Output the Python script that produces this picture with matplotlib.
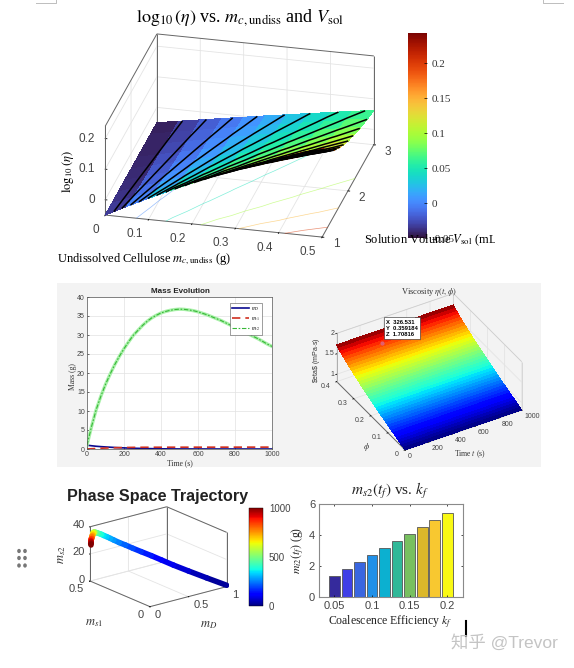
import numpy as np
import matplotlib
matplotlib.use("Agg")
import matplotlib.pyplot as plt
from matplotlib.cm import ScalarMappable
from matplotlib.colors import Normalize
from matplotlib.lines import Line2D
from matplotlib.patches import Rectangle, Circle
from matplotlib.transforms import Bbox
from mpl_toolkits.mplot3d import proj3d
from mpl_toolkits.mplot3d.art3d import Line3DCollection

W, H = 574, 668

# top surface: log10(eta) on m_c (columns) and V_sol (rows)
mc_values = [0, 0.05, 0.1, 0.15, 0.2, 0.25, 0.3, 0.35, 0.4, 0.45, 0.5]
vsol_values = [1, 1.25, 1.5, 1.75, 2, 2.25, 2.5, 2.75, 3]
log_eta = [
    [-0.05, -0.0147, 0.0192, 0.0517, 0.0828, 0.1125, 0.1408, 0.1677, 0.1932, 0.2173, 0.24],
    [-0.05, -0.0216, 0.0058, 0.0324, 0.058, 0.0828, 0.1067, 0.1296, 0.1517, 0.1729, 0.1932],
    [-0.05, -0.0263, -0.0032, 0.0192, 0.041, 0.0622, 0.0828, 0.1028, 0.1221, 0.1408, 0.1589],
    [-0.05, -0.0296, -0.0098, 0.0096, 0.0286, 0.0472, 0.0652, 0.0828, 0.1, 0.1166, 0.1328],
    [-0.05, -0.0322, -0.0147, 0.0024, 0.0192, 0.0356, 0.0517, 0.0674, 0.0828, 0.0978, 0.1125],
    [-0.05, -0.0341, -0.0186, -0.0032, 0.0118, 0.0266, 0.041, 0.0552, 0.0692, 0.0828, 0.0962],
    [-0.05, -0.0357, -0.0216, -0.0078, 0.0058, 0.0192, 0.0324, 0.0453, 0.058, 0.0705, 0.0828],
    [-0.05, -0.037, -0.0242, -0.0116, 0.0009, 0.0131, 0.0252, 0.0371, 0.0488, 0.0603, 0.0716],
    [-0.05, -0.0381, -0.0263, -0.0147, -0.0032, 0.0082, 0.0192, 0.0302, 0.041, 0.0517, 0.0622],
]
black_levels = [-0.036, -0.023, -0.009, 0.004, 0.018, 0.031, 0.045, 0.058, 0.072, 0.085, 0.099,
                0.112, 0.126, 0.139, 0.153, 0.166, 0.18, 0.193, 0.207, 0.22]
floor_levels = [0.0, 0.045, 0.095, 0.145, 0.2]

# mass evolution, also used by the phase space trajectory
time_s = [0, 25, 50, 75, 100, 125, 150, 175, 200, 225, 250, 275, 300, 325, 350, 375, 400, 425, 450, 475,
          500, 525, 550, 575, 600, 625, 650, 675, 700, 725, 750, 775, 800, 825, 850, 875, 900, 925, 950, 975, 1000]
m_D = [1, 0.85, 0.72, 0.62, 0.54, 0.47, 0.4, 0.34, 0.29, 0.24, 0.2, 0.17, 0.14, 0.11, 0.09, 0.07, 0.05, 0.04, 0.03, 0.02,
       0.015, 0.012, 0.01, 0.01, 0.008, 0.006, 0.005, 0.004, 0.003, 0.002, 0.002, 0.001, 0.001, 0, 0, 0, 0, 0, 0, 0, 0]
m_s1 = [0, 0.07, 0.14, 0.2, 0.25, 0.29, 0.33, 0.36, 0.39, 0.41, 0.43, 0.44, 0.45, 0.455, 0.46, 0.46, 0.465, 0.465, 0.47, 0.47,
        0.47, 0.475, 0.475, 0.475, 0.48, 0.48, 0.48, 0.48, 0.48, 0.485, 0.485, 0.485, 0.485, 0.49, 0.49, 0.49, 0.49, 0.49, 0.49, 0.495, 0.495]
m_s2 = [1, 6, 10.4, 13.9, 17, 19.7, 22.2, 24.4, 26.4, 28.2, 29.9, 31.2, 32.5, 33.6, 34.5, 35.2, 35.8, 36.2, 36.5, 36.7,
        36.8, 36.75, 36.6, 36.4, 36.1, 35.7, 35.3, 34.8, 34.3, 33.8, 33.2, 32.6, 32, 31.4, 30.8, 30.2, 29.6, 29, 28.3, 27.6, 27]

# viscosity surface
t_ends = [0, 1000]
phi_values = [0, 0.01, 0.02, 0.03, 0.04, 0.05, 0.06, 0.07, 0.08, 0.09, 0.1, 0.11, 0.12, 0.13, 0.14, 0.15, 0.16, 0.17, 0.18, 0.19, 0.2,
              0.21, 0.22, 0.23, 0.24, 0.25, 0.26, 0.27, 0.28, 0.29, 0.3, 0.31, 0.32, 0.33, 0.34, 0.35, 0.36, 0.37, 0.38, 0.39, 0.4]
eta_values = [0.82, 0.838, 0.856, 0.874, 0.893, 0.911, 0.93, 0.948, 0.967, 0.986, 1.005, 1.024, 1.043, 1.063, 1.082, 1.102, 1.122,
              1.142, 1.162, 1.182, 1.203, 1.224, 1.245, 1.266, 1.288, 1.31, 1.332, 1.355, 1.378, 1.401, 1.425, 1.45, 1.475, 1.5,
              1.527, 1.554, 1.582, 1.612, 1.643, 1.677, 1.72]

# coalescence bars
k_f = [0.05, 0.0667, 0.0833, 0.1, 0.1167, 0.1333, 0.15, 0.1667, 0.1833, 0.2]
m_s2_final = [1.36, 1.80, 2.25, 2.71, 3.16, 3.61, 4.07, 4.53, 4.96, 5.42]
bar_colors = ["#352a9c", "#3f3fe6", "#3a66e0", "#2090e8", "#0cb0d0", "#30b898", "#78c060", "#dcb82a", "#f8c830", "#f9f914"]

plt.rcParams["font.family"] = ["Liberation Serif", "DejaVu Sans"]
plt.rcParams["mathtext.fontset"] = "stix"

fig = plt.figure(figsize=(W / 100, H / 100), dpi=100)
GRAY = "#444444"
SANS = ["Liberation Sans", "DejaVu Sans"]


def px_axes(left, top, right, bottom):
    return [left / W, 1 - bottom / H, (right - left) / W, (bottom - top) / H]


def ptext(x, y, s, **kw):
    kw.setdefault("ha", "center")
    kw.setdefault("va", "center")
    return fig.text(x / W, 1 - y / H, s, **kw)


def axes_3d(cx, cy, aspect, lx, elev, azim):
    # square axes sized so the x edge of the box is lx pixels long, box centre at (cx, cy)
    aspect = np.array(aspect, dtype=float)
    unit = aspect[0] / np.linalg.norm(aspect) * 1.8294640721620434 * 25 / 24 / 1.85
    side = lx / unit
    left = cx - side * 0.95 / 1.85
    bottom = cy + side * 0.95 / 1.85
    ax = fig.add_axes(px_axes(left, bottom - side, left + side, bottom), projection="3d", proj_type="ortho")
    ax.set_box_aspect(aspect)
    ax.view_init(elev=elev, azim=azim)
    ax.patch.set_visible(False)
    ax.computed_zorder = False
    for axis in (ax.xaxis, ax.yaxis, ax.zaxis):
        axis.set_pane_color((1, 1, 1, 0))
        axis.pane.set_edgecolor((1, 1, 1, 0))
        axis._axinfo["grid"].update(color="#e4e4e4", linewidth=0.6)
        axis._axinfo["tick"].update(inward_factor=0.1, outward_factor=0.0)
        axis._axinfo["tick"]["linewidth"] = {True: 0.6, False: 0.5}
        axis.line.set_color("#666666")
        axis.line.set_linewidth(0.7)
    ax.margins(0)
    return ax


def wall_edges(xl, yl, zl):
    # outline of the two back walls; xl and yl end on the far corner of the box
    x0, x1 = xl
    y0, y1 = yl
    z0, z1 = zl
    return [((x0, y1, z1), (x1, y1, z1)), ((x1, y0, z1), (x1, y1, z1)), ((x0, y1, z0), (x0, y1, z1)),
            ((x1, y1, z0), (x1, y1, z1)), ((x1, y0, z0), (x1, y0, z1))]


def tick_text(ax, x, y, z, label, dx, dy, ha, size):
    # tick label placed from the projected position of its tick, offset in pixels
    xp, yp, _ = proj3d.proj_transform(x, y, z, ax.get_proj())
    ax.annotate(label, (xp, yp), xycoords="data", xytext=(dx * 0.72, -dy * 0.72), textcoords="offset points",
                ha=ha, va="center", fontsize=size, color=GRAY, family=SANS, annotation_clip=False)


# page decoration
fig.add_artist(Rectangle((57 / W, 1 - 467 / H), 484 / W, 184 / H, transform=fig.transFigure, fc="#f3f3f3", ec="none", zorder=-5))
for xs, ys in [((36, 56, 56), (3, 3, 0)), ((563, 543, 543), (3, 3, 0))]:
    fig.add_artist(Line2D([x / W for x in xs], [1 - y / H for y in ys], color="#bdbdbd", lw=0.7))
for dx in (19, 25):
    for dy in (551, 558, 565.5):
        fig.add_artist(Circle((dx / W, 1 - dy / H), 0.0032, transform=fig.transFigure, fc="#777777", ec="none"))

# ---- top: log10(eta) surface
ax1 = axes_3d(239.5, 135.5, (1, 1, 0.44), 223, 25.2, -76.6)
mc_grid, vsol_grid = np.meshgrid(mc_values, vsol_values)
log_eta_grid = np.array(log_eta)
z_lim1 = (-0.05, 0.24)
ax1.set_xlim(0, 0.5)
ax1.set_ylim(1, 3)
ax1.set_zlim(*z_lim1)
ax1.contour(mc_grid, vsol_grid, log_eta_grid, levels=floor_levels, zdir="z", offset=z_lim1[0], cmap="turbo",
            vmin=-0.05, vmax=0.24, linewidths=0.5, alpha=0.55, zorder=1, linestyles="solid")
ax1.plot_surface(mc_grid, vsol_grid, log_eta_grid, rstride=1, cstride=1, cmap="turbo", vmin=-0.05, vmax=0.24,
                 shade=False, linewidth=0, antialiased=False, zorder=2)
ax1.contour(mc_grid, vsol_grid, log_eta_grid, levels=black_levels, colors="k", linewidths=1.1, zorder=3, linestyles="solid")
ax1_xt = [0, 0.1, 0.2, 0.3, 0.4, 0.5]
ax1_yt = [1, 2, 3]
ax1_zt = [0, 0.1, 0.2]
ax1.set_xticks(ax1_xt, [""] * 6)
ax1.set_yticks(ax1_yt, [""] * 3)
ax1.set_zticks(ax1_zt, [""] * 3)
ax1.zaxis._axinfo["juggled"] = (1, 2, 0)
for v in ax1_xt:
    tick_text(ax1, v, 1, z_lim1[0], f"{v:g}", -6, 15, "right", 8.5)
for v in ax1_yt:
    tick_text(ax1, 0.5, v, z_lim1[0], f"{v:g}", 14, 7, "center", 8.5)
for v in ax1_zt:
    tick_text(ax1, 0, 1, v, f"{v:g}", -10, 0, "right", 8.5)
# far corner of this box is at m_c = 0, V_sol = 3
ax1.add_collection3d(Line3DCollection(wall_edges((0.5, 0), (1, 3), z_lim1), colors="#666666", linewidths=0.7, zorder=0))

ptext(240, 18, r"$\log_{10}(\eta)$ vs. $m_{c,\mathrm{undiss}}$ and $V_{\mathrm{sol}}$", fontsize=13)
ptext(68, 172, r"$\log_{10}(\eta)$", fontsize=9, rotation=90)
ptext(144, 259, r"Undissolved Cellulose $m_{c,\mathrm{undiss}}$ (g)", fontsize=9)

cax1 = fig.add_axes(px_axes(408, 33, 427, 238))
cb1 = fig.colorbar(ScalarMappable(Normalize(-0.05, 0.243), "turbo"), cax=cax1)
cb1.set_ticks([-0.05, 0, 0.05, 0.1, 0.15, 0.2], labels=["-0.05", "0", "0.05", "0.1", "0.15", "0.2"])
cb1.outline.set_linewidth(0)
cax1.tick_params(labelsize=8, length=2, width=0.5, pad=3, labelcolor="#333333", direction="in")
vol_text = ptext(364, 240.5, r"Solution Volume $V_{\mathrm{sol}}$ (mL)", fontsize=9, ha="left")
vol_text.set_clip_box(Bbox([[0, 0], [495, H]]))
vol_text.set_clip_on(True)

# ---- mass evolution
ax2 = fig.add_axes(px_axes(87, 297, 272, 449))
ax2.plot(time_s, m_D, color="#0a0a90", lw=1.2, label="$m_D$")
ax2.plot(time_s, m_s1, color="#d03020", lw=1.2, ls=(0, (5, 3)), label="$m_{s1}$")
ax2.plot(time_s, m_s2, color="#a8f0a8", lw=2.4)
ax2.plot(time_s, m_s2, color="#38b838", lw=0.8, ls=(0, (4, 1.5, 1.5, 1.5)), label="$m_{s2}$")
ax2.set_xlim(0, 1000)
ax2.set_ylim(0, 40)
ax2.set_xticks([0, 200, 400, 600, 800, 1000])
ax2.set_yticks(range(0, 41, 5))
ax2.grid(color="#e2e2e2", lw=0.5)
ax2.tick_params(labelsize=5, length=1.5, width=0.4, pad=1.5, labelcolor=GRAY, direction="in")
for lab in ax2.get_xticklabels() + ax2.get_yticklabels():
    lab.set_fontfamily(SANS)
for sp in ax2.spines.values():
    sp.set_linewidth(0.5)
    sp.set_color("#555555")
ax2.legend(loc="upper right", fontsize=4, handlelength=3, handletextpad=0.4, fancybox=False, edgecolor="#555555", framealpha=1,
           borderpad=0.35, labelspacing=0.35, bbox_to_anchor=(0.946, 0.96), borderaxespad=0).get_frame().set_linewidth(0.4)
ptext(180, 291.5, "Mass Evolution", fontsize=5.8, fontweight="bold", family=SANS, color="#222222")
ptext(180, 463, "Time (s)", fontsize=5.5, color="#333333")
ptext(73, 377, "Mass (g)", fontsize=5.5, rotation=90, color="#333333")

# ---- viscosity surface
ax3 = axes_3d(429.2, 371.65, (1, 1, 0.44), 135.2, 35.8, -120.35)
t_grid, phi_grid = np.meshgrid(t_ends, phi_values)
eta_grid = np.array([eta_values, eta_values]).T
ax3.set_xlim(0, 1000)
ax3.set_ylim(0, 0.4)
ax3.set_zlim(0.82, 2)
ax3.plot_surface(t_grid, phi_grid, eta_grid, rstride=1, cstride=1, cmap="jet", vmin=0.82, vmax=1.72, shade=False,
                 linewidth=0, antialiased=False, zorder=2)
ax3_xt = [0, 200, 400, 600, 800, 1000]
ax3_yt = [0, 0.1, 0.2, 0.3, 0.4]
ax3_zt = [1, 1.5, 2]
ax3.set_xticks(ax3_xt, [""] * 6)
ax3.set_yticks(ax3_yt, [""] * 5)
ax3.set_zticks(ax3_zt, [""] * 3)
for v in ax3_xt:
    tick_text(ax3, v, 0, 0.82, f"{v:g}", 3, 6.5, "left", 5)
for v in ax3_yt:
    tick_text(ax3, 0, v, 0.82, f"{v:g}", -6, 4.4, "right", 5)
for v in ax3_zt:
    tick_text(ax3, 0, 0.4, v, f"{v:g}", -2.5, 0, "right", 5)
ax3.add_collection3d(Line3DCollection(wall_edges((0, 1000), (0, 0.4), (0.82, 2)), colors="#cccccc", linewidths=0.5, zorder=0))
ptext(429, 292, r"Viscosity $\eta(t,\phi)$", fontsize=6, color="#333333")
ptext(317, 360, r"\$eta\$ (mPa$\cdot$s)", fontsize=5, rotation=90, family=SANS, color="#333333")
ptext(366, 447, r"$\phi$", fontsize=6, color="#333333")
ptext(470, 454, r"Time $t$ (s)", fontsize=5.5, color="#333333")
ptext(386, 328.3, "X  326.531\nY  0.359184\nZ  1.70816", fontsize=4.2, ha="left", family=SANS, fontweight="bold",
      linespacing=1.25, zorder=10,
      bbox=dict(boxstyle="square,pad=0.4", fc="white", ec="#222222", lw=0.4))
fig.add_artist(Line2D([381.7 / W], [1 - 342.7 / H], marker="o", ms=2, color="#e06070", zorder=10))

# ---- phase space trajectory
ax4 = axes_3d(158.35, 556.7, (1, 1, 0.592), 97.3, 19.5, -128)
ax4.set_xlim(0, 1)
ax4.set_ylim(0, 0.5)
ax4.set_zlim(0, 40)
points = np.column_stack([m_D, m_s1, m_s2])
segments = np.stack([points[:-1], points[1:]], axis=1)
tube = Line3DCollection(segments, cmap="jet", norm=Normalize(0, 1000), linewidths=4, capstyle="round", zorder=5)
tube.set_array(np.array(time_s[1:], dtype=float))
ax4.add_collection3d(tube)
ax4_xt = [0, 0.5, 1]
ax4_yt = [0, 0.5]
ax4_zt = [0, 20, 40]
ax4.set_xticks(ax4_xt, [""] * 3)
ax4.set_yticks(ax4_yt, [""] * 2)
ax4.set_zticks(ax4_zt, [""] * 3)
for v in ax4_xt:
    tick_text(ax4, v, 0, 0, f"{v:g}", 5, 8.5, "left", 8)
for v in ax4_yt:
    tick_text(ax4, 0, v, 0, f"{v:g}", -6, 8, "right", 8)
for v in ax4_zt:
    tick_text(ax4, 0, 0.5, v, f"{v:g}", -5, -1.5, "right", 8)
ax4.add_collection3d(Line3DCollection(wall_edges((0, 1), (0, 0.5), (0, 40)), colors="#666666", linewidths=0.7, zorder=0))
ptext(158, 496, "Phase Space Trajectory", fontsize=11.6, fontweight="bold", family=SANS, color="#222222")
ptext(62, 555, "$m_{s2}$", fontsize=9, rotation=90, color="#333333")
ptext(94, 623, "$m_{s1}$", fontsize=9, color="#333333")
ptext(209, 625, "$m_D$", fontsize=9, color="#333333")
cax4 = fig.add_axes(px_axes(248.7, 507.7, 263.3, 606))
cb4 = fig.colorbar(ScalarMappable(Normalize(0, 1000), "jet"), cax=cax4)
cb4.set_ticks([0, 500, 1000], labels=["0", "500", "1000"])
cb4.outline.set_linewidth(0.3)
cax4.tick_params(labelsize=7, length=0, pad=4, labelcolor=GRAY)
for lab in cax4.get_yticklabels():
    lab.set_fontfamily(SANS)

# ---- coalescence bars
ax5 = fig.add_axes(px_axes(319.3, 504.3, 462.7, 596.7))
ax5.bar(k_f, m_s2_final, width=0.014, color=bar_colors, edgecolor="#555555", linewidth=0.6)
ax5.set_xlim(0.0301, 0.2204)
ax5.set_ylim(0, 6)
ax5.set_xticks([0.05, 0.1, 0.15, 0.2], ["0.05", "0.1", "0.15", "0.2"])
ax5.set_yticks([0, 2, 4, 6])
ax5.tick_params(labelsize=8, length=1.5, width=0.5, pad=3, labelcolor=GRAY, direction="in", top=True, right=True)
for lab in ax5.get_xticklabels() + ax5.get_yticklabels():
    lab.set_fontfamily(SANS)
for sp in ax5.spines.values():
    sp.set_linewidth(0.8)
    sp.set_color("#8a8a8a")
ptext(390, 491, "$m_{s2}(t_f)$ vs. $k_f$", fontsize=11, color="#222222")
ptext(390, 622, "Coalescence Efficiency $k_f$", fontsize=8.5, color="#222222")
ptext(298, 550, "$m_{i2}(t_f)$ (g)", fontsize=8.5, rotation=90, color="#222222")

# cursor and watermark
fig.add_artist(Line2D([465.7 / W, 465.7 / W], [1 - 621 / H, 1 - 636 / H], color="k", lw=1.5))
ptext(504, 643, "知乎 @Trevor", fontsize=12.5, color="#c4c4c4", family=["Liberation Sans", "Noto Sans CJK SC"])

fig.savefig("out.png", dpi=100)
